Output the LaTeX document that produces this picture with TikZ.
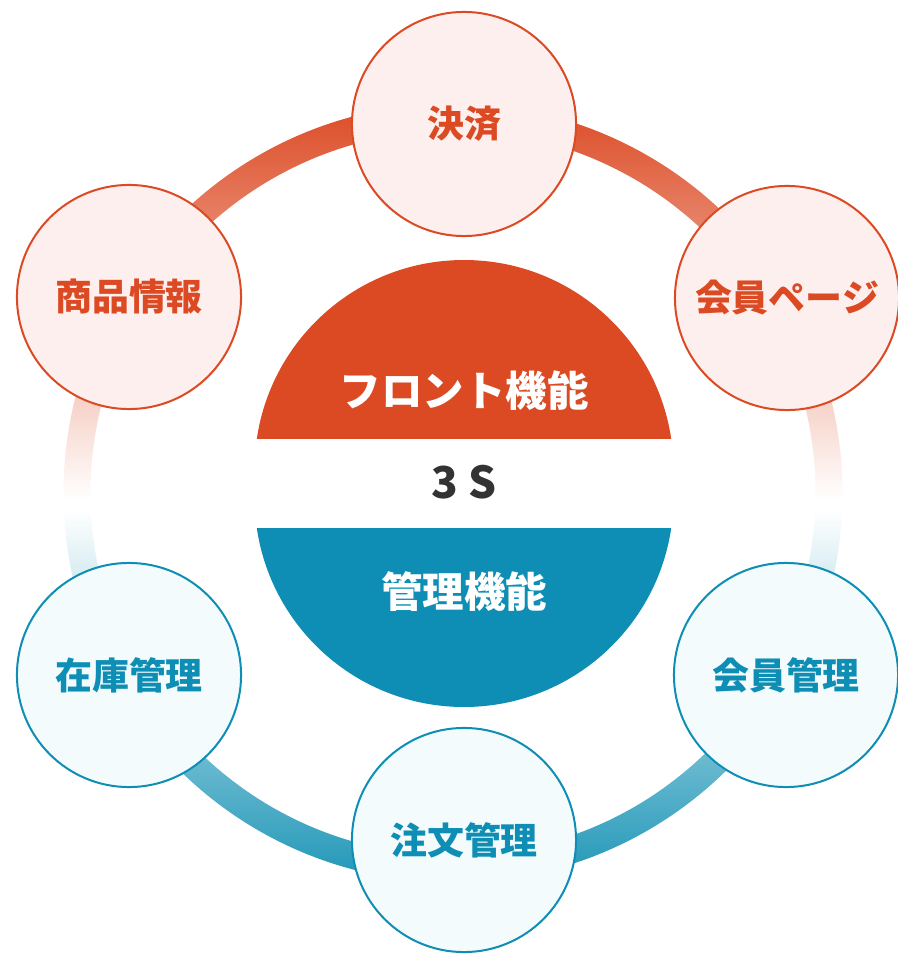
\documentclass[tikz,border=0pt]{standalone}
\usepackage{fontspec}
\newfontfamily\jpfont{Noto Sans CJK JP}
\definecolor{frontred}{HTML}{DC4A24}
\definecolor{adminblue}{HTML}{0E8EB4}
\definecolor{ringblue}{HTML}{1A94B6}
\definecolor{pinkfill}{HTML}{FCEFEE}
\definecolor{bluefill}{HTML}{F3FBFD}
\definecolor{textgray}{HTML}{333333}

\begin{document}
\begin{tikzpicture}[x=0.01cm, y=-0.01cm,
    front/.style={draw=frontred, fill=pinkfill, text=frontred},
    admin/.style={draw=adminblue, fill=bluefill, text=adminblue},
    feature/.style={circle, line width=0.02cm, minimum size=2.24cm, inner sep=0pt,
        font=\jpfont\bfseries\fontsize{10.5}{12}\selectfont},
    title/.style={text=white, font=\jpfont\bfseries\fontsize{11.8}{14}\selectfont}]
    \useasboundingbox (0,0) rectangle (897,955);

    % Ring
    \begin{scope}[shift={(453,493)}]
        \shade[top color=frontred, bottom color=white]
            (178.9:389.5) arc[start angle=178.9, end angle=361.1, radius=389.5]
            -- (361.1:362.5) arc[start angle=361.1, end angle=178.9, radius=362.5] -- cycle;
        \shade[top color=white, bottom color=ringblue]
            (2.6:389.5) arc[start angle=2.6, end angle=177.4, radius=389.5]
            -- (177.4:362.5) arc[start angle=177.4, end angle=2.6, radius=362.5] -- cycle;
    \end{scope}

    % Center
    \begin{scope}
        \clip (0,0) rectangle (897,438);
        \fill[frontred] (464,469.4) circle (209.4);
    \end{scope}
    \begin{scope}
        \clip (0,528) rectangle (897,955);
        \fill[adminblue] (464,497.6) circle (209.4);
    \end{scope}
    \node[title] (frontlabel) at (464,391) {フロント機能};
    \node[text=textgray, font=\jpfont\bfseries\fontsize{12.5}{14}\selectfont] (threes) at (464,482) {3 S};
    \node[title] (adminlabel) at (464,592) {管理機能};

    % Nodes
    \node[feature, front] (payment) at (464,124) {決済};
    \node[feature, front] (mypage) at (787,298) {会員ページ};
    \node[feature, front] (product) at (129,297) {商品情報};
    \node[feature, admin] (member) at (786,675) {会員管理};
    \node[feature, admin] (order) at (464,840) {注文管理};
    \node[feature, admin] (stock) at (129,675) {在庫管理};
\end{tikzpicture}
\end{document}
